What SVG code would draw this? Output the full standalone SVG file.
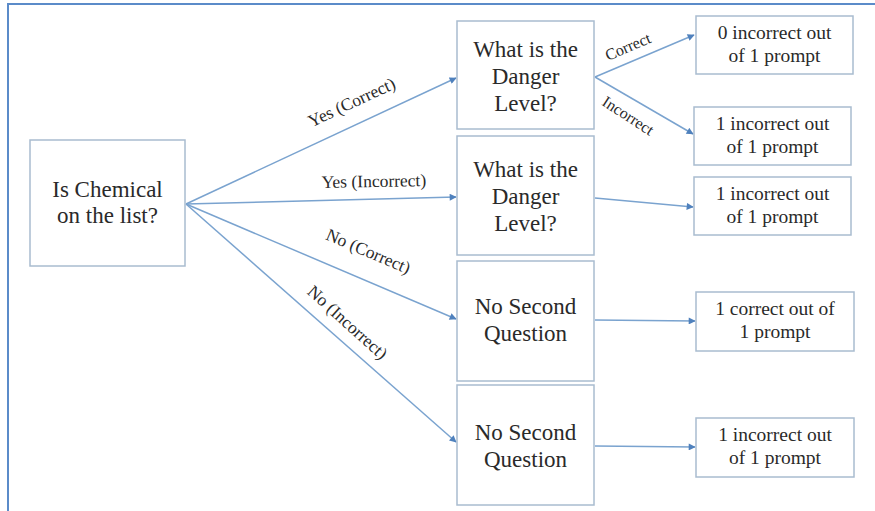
<svg xmlns="http://www.w3.org/2000/svg" width="875" height="511" viewBox="0 0 875 511">
<defs>
<marker id="ah" viewBox="0 0 10 10" refX="9" refY="5" markerWidth="8" markerHeight="7" markerUnits="userSpaceOnUse" orient="auto">
<path d="M0,0 L10,5 L0,10 z" fill="#4f81bd"/>
</marker>
</defs>
<rect x="0" y="0" width="875" height="511" fill="#fff"/>
<g id="frame" stroke="#5b8bc9" stroke-width="2">
<line x1="7" y1="4" x2="875" y2="4"/>
<line x1="8" y1="4" x2="8" y2="511"/>
</g>
<g id="connectors">
<g stroke="#7aa3cf" stroke-width="1.5" fill="none" marker-end="url(#ah)">
<line x1="186" y1="204" x2="456" y2="78"/>
<line x1="186" y1="204" x2="456" y2="197"/>
<line x1="186" y1="204" x2="456" y2="319"/>
<line x1="186" y1="204" x2="456" y2="442"/>
<line x1="595" y1="77" x2="694" y2="35"/>
<line x1="595" y1="77" x2="693" y2="134"/>
<line x1="595" y1="198" x2="693" y2="207"/>
<line x1="595" y1="320" x2="695" y2="321"/>
<line x1="595" y1="446" x2="695" y2="447"/>
</g>
<g fill="#2a2a2a" text-anchor="middle">
<text font-family="Liberation Serif" font-size="17.5" transform="translate(352,103) rotate(-25)" y="5">Yes (Correct)</text>
<text font-family="Liberation Serif" font-size="17.5" transform="translate(374,187) rotate(-1)">Yes (Incorrect)</text>
<text font-family="Liberation Serif" font-size="17.5" transform="translate(368,252) rotate(23)" y="5">No (Correct)</text>
<text font-family="Liberation Serif" font-size="17.5" transform="translate(347,323) rotate(42)" y="5">No (Incorrect)</text>
<text font-family="Liberation Serif" font-size="16" transform="translate(628,47) rotate(-23)" y="5">Correct</text>
<text font-family="Liberation Serif" font-size="16" transform="translate(628,116) rotate(33)" y="5">Incorrect</text>
</g>
</g>
<g id="n-chemical" fill="#2a2a2a" text-anchor="middle">
<rect x="30" y="140" width="155" height="126" fill="#fff" stroke="#a9bccf" stroke-width="1.5"/>
<text font-family="Liberation Serif" font-size="23" x="107.5" y="197">Is Chemical</text>
<text font-family="Liberation Serif" font-size="23" x="107.5" y="223">on the list?</text>
</g>
<g id="n-danger1" fill="#2a2a2a" text-anchor="middle">
<rect x="457" y="21" width="137" height="108" fill="#fff" stroke="#a9bccf" stroke-width="1.5"/>
<text font-family="Liberation Serif" font-size="23" x="525.5" y="57">What is the</text>
<text font-family="Liberation Serif" font-size="23" x="525.5" y="84">Danger</text>
<text font-family="Liberation Serif" font-size="23" x="525.5" y="111">Level?</text>
</g>
<g id="n-danger2" fill="#2a2a2a" text-anchor="middle">
<rect x="457" y="136" width="137" height="119" fill="#fff" stroke="#a9bccf" stroke-width="1.5"/>
<text font-family="Liberation Serif" font-size="23" x="525.5" y="177">What is the</text>
<text font-family="Liberation Serif" font-size="23" x="525.5" y="204">Danger</text>
<text font-family="Liberation Serif" font-size="23" x="525.5" y="231">Level?</text>
</g>
<g id="n-nosecond1" fill="#2a2a2a" text-anchor="middle">
<rect x="457" y="261" width="137" height="120" fill="#fff" stroke="#a9bccf" stroke-width="1.5"/>
<text font-family="Liberation Serif" font-size="23" x="525.5" y="314">No Second</text>
<text font-family="Liberation Serif" font-size="23" x="525.5" y="341">Question</text>
</g>
<g id="n-nosecond2" fill="#2a2a2a" text-anchor="middle">
<rect x="457" y="385" width="137" height="120" fill="#fff" stroke="#a9bccf" stroke-width="1.5"/>
<text font-family="Liberation Serif" font-size="23" x="525.5" y="440">No Second</text>
<text font-family="Liberation Serif" font-size="23" x="525.5" y="467">Question</text>
</g>
<g id="r1" fill="#2a2a2a" text-anchor="middle">
<rect x="696" y="16" width="157" height="58" fill="#fff" stroke="#a9bccf" stroke-width="1.5"/>
<text font-family="Liberation Serif" font-size="19.5" x="774.5" y="39">0 incorrect out</text>
<text font-family="Liberation Serif" font-size="19.5" x="774.5" y="62">of 1 prompt</text>
</g>
<g id="r2" fill="#2a2a2a" text-anchor="middle">
<rect x="694" y="107" width="157" height="58" fill="#fff" stroke="#a9bccf" stroke-width="1.5"/>
<text font-family="Liberation Serif" font-size="19.5" x="772.5" y="130">1 incorrect out</text>
<text font-family="Liberation Serif" font-size="19.5" x="772.5" y="153">of 1 prompt</text>
</g>
<g id="r3" fill="#2a2a2a" text-anchor="middle">
<rect x="694" y="177" width="157" height="58" fill="#fff" stroke="#a9bccf" stroke-width="1.5"/>
<text font-family="Liberation Serif" font-size="19.5" x="772.5" y="200">1 incorrect out</text>
<text font-family="Liberation Serif" font-size="19.5" x="772.5" y="223">of 1 prompt</text>
</g>
<g id="r4" fill="#2a2a2a" text-anchor="middle">
<rect x="696" y="292" width="158" height="59" fill="#fff" stroke="#a9bccf" stroke-width="1.5"/>
<text font-family="Liberation Serif" font-size="19.5" x="775" y="315">1 correct out of</text>
<text font-family="Liberation Serif" font-size="19.5" x="775" y="338">1 prompt</text>
</g>
<g id="r5" fill="#2a2a2a" text-anchor="middle">
<rect x="696" y="418" width="158" height="59" fill="#fff" stroke="#a9bccf" stroke-width="1.5"/>
<text font-family="Liberation Serif" font-size="19.5" x="775" y="441">1 incorrect out</text>
<text font-family="Liberation Serif" font-size="19.5" x="775" y="464">of 1 prompt</text>
</g>
</svg>
